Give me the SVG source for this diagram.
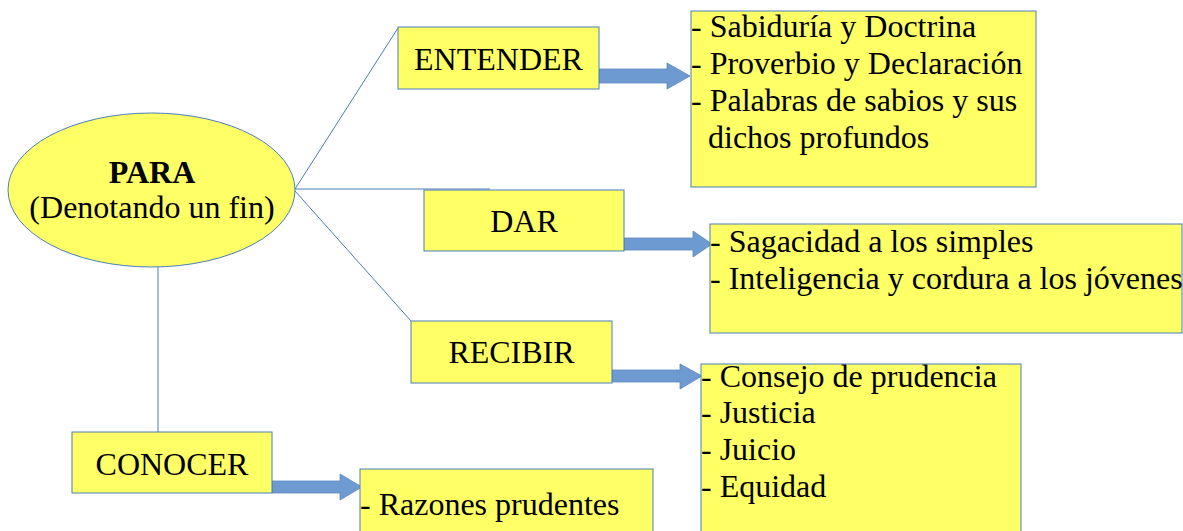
<svg xmlns="http://www.w3.org/2000/svg" width="1183" height="531" viewBox="0 0 1183 531">
<style>
.box{fill:#ffff66;stroke:#4a7ebb;stroke-width:1}
.t{font-family:"Liberation Serif","Times New Roman",serif;font-size:32px;fill:#000}
.c{text-anchor:middle}
.ln{stroke:#4a7ebb;stroke-width:1;fill:none}
.arr{fill:#6d9bd1;stroke:#5a86bf;stroke-width:0.8}
</style>
<rect width="1183" height="531" fill="#ffffff"/>
<g id="connectors">
<line class="ln" x1="295" y1="189" x2="398" y2="28"/>
<line class="ln" x1="295" y1="189" x2="490" y2="189"/>
<line class="ln" x1="295" y1="191" x2="411" y2="321"/>
<line class="ln" x1="158" y1="267" x2="158" y2="432"/>
<polygon class="arr" points="599,69 667,69 667,63 690,76 667,89 667,83 599,83"/>
<polygon class="arr" points="624,238 693,238 693,231 712,244 693,257 693,250 624,250"/>
<polygon class="arr" points="612,370 680,370 680,364 702,376 680,389 680,382 612,382"/>
<polygon class="arr" points="272,481 340,481 340,474 362,487 340,500 340,493 272,493"/>
</g>
<g id="para">
<ellipse class="box" cx="151.5" cy="190" rx="143.5" ry="77"/>
<text class="t c" x="152" y="183" font-weight="bold">PARA</text>
<text class="t c" x="152" y="218">(Denotando un fin)</text>
</g>
<g id="entender">
<rect class="box" x="398" y="27" width="201" height="62"/>
<text class="t c" x="498.5" y="70">ENTENDER</text>
</g>
<g id="entender-list">
<rect class="box" x="691" y="11" width="345" height="176"/>
<text class="t" x="691" y="37">- Sabiduría y Doctrina</text>
<text class="t" x="691" y="74">- Proverbio y Declaración</text>
<text class="t" x="691" y="111">- Palabras de sabios y sus</text>
<text class="t" x="708" y="148">dichos profundos</text>
</g>
<g id="dar">
<rect class="box" x="424" y="190" width="200" height="61"/>
<text class="t c" x="524" y="232">DAR</text>
</g>
<g id="dar-list">
<rect class="box" x="710" y="224" width="472" height="109"/>
<text class="t" x="710" y="252">- Sagacidad a los simples</text>
<text class="t" x="710" y="289">- Inteligencia y cordura a los jóvenes</text>
</g>
<g id="recibir">
<rect class="box" x="411" y="321" width="201" height="62"/>
<text class="t c" x="511.5" y="363">RECIBIR</text>
</g>
<g id="recibir-list">
<rect class="box" x="701" y="364" width="320" height="180"/>
<text class="t" x="701" y="387">- Consejo de prudencia</text>
<text class="t" x="701" y="423">- Justicia</text>
<text class="t" x="701" y="460">- Juicio</text>
<text class="t" x="701" y="497">- Equidad</text>
</g>
<g id="conocer">
<rect class="box" x="72" y="432" width="200" height="61"/>
<text class="t c" x="172" y="475">CONOCER</text>
</g>
<g id="conocer-list">
<rect class="box" x="360" y="469" width="293" height="80"/>
<text class="t" x="360" y="515">- Razones prudentes</text>
</g>
</svg>
